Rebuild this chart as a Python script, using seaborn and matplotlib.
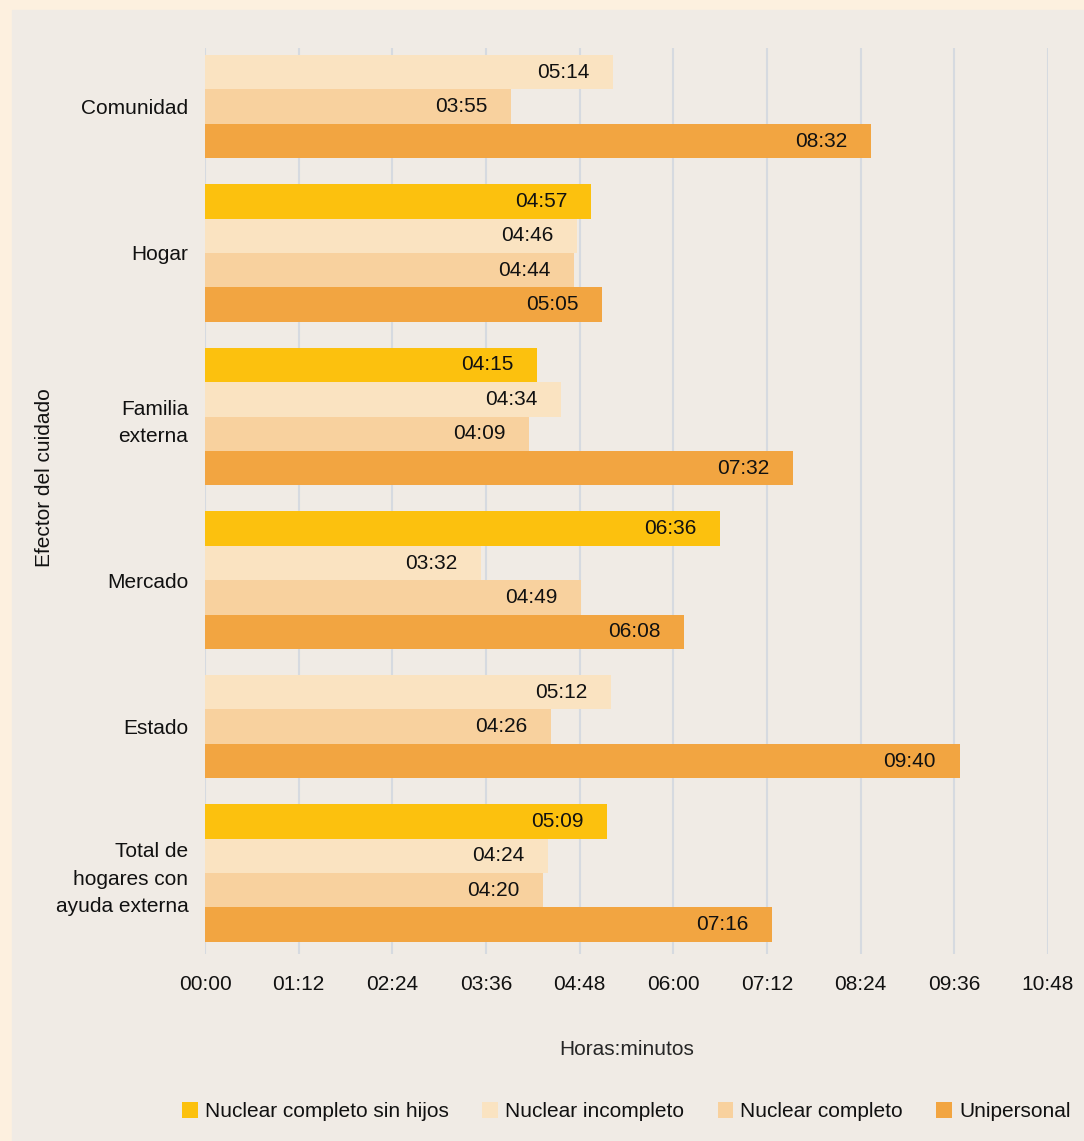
import numpy as np
import pandas as pd
import seaborn as sns
import matplotlib.pyplot as plt
from matplotlib.patches import Rectangle

# categorias (de arriba hacia abajo) y series, valores en horas:minutos
efectores = ["Comunidad", "Hogar", "Familia\nexterna", "Mercado", "Estado",
             "Total de\nhogares con\nayuda externa"]
tipos = ["Nuclear completo sin hijos", "Nuclear incompleto", "Nuclear completo", "Unipersonal"]
sin_hijos = [None, "04:57", "04:15", "06:36", None, "05:09"]
incompleto = ["05:14", "04:46", "04:34", "03:32", "05:12", "04:24"]
completo = ["03:55", "04:44", "04:09", "04:49", "04:26", "04:20"]
unipersonal = ["08:32", "05:05", "07:32", "06:08", "09:40", "07:16"]
tick_labels = ["00:00", "01:12", "02:24", "03:36", "04:48", "06:00",
               "07:12", "08:24", "09:36", "10:48"]
colores = ["#FCC10E", "#FAE3C1", "#F8D19E", "#F2A541"]


def a_minutos(s):
    h, m = s.split(":")
    return int(h) * 60 + int(m)


def a_hhmm(v):
    v = int(round(v))
    return f"{v // 60:02d}:{v % 60:02d}"


# una fila por barra; los grupos solo ocupan el lugar de las barras que tienen
rows = []
centros = []
pos = 0.0
for i, ef in enumerate(efectores):
    ys = []
    for tipo, serie in zip(tipos, [sin_hijos, incompleto, completo, unipersonal]):
        if serie[i] is None:
            continue
        rows.append({"pos": pos, "minutos": a_minutos(serie[i]), "tipo": tipo})
        ys.append(pos)
        pos += 1
    centros.append(np.mean(ys))
    pos += 0.75
df = pd.DataFrame(rows)

sns.set_theme(style="white")
plt.rcParams['font.family'] = ['Liberation Sans', 'DejaVu Sans']
plt.rcParams['text.color'] = '#111111'
plt.rcParams['xtick.color'] = '#111111'
plt.rcParams['ytick.color'] = '#111111'

W, H = 1084, 1141
fig = plt.figure(figsize=(W / 100, H / 100), dpi=100)
fig.patch.set_facecolor('#FDF0DF')
fig.add_artist(Rectangle((12 / W, 0), 1, 1 - 10 / H, transform=fig.transFigure,
                         color='#F0EBE5', zorder=0))

ax = fig.add_axes([205 / W, 1 - 954 / H, 843 / W, 906 / H])
ax.patch.set_alpha(0)

sns.barplot(data=df, x="minutos", y="pos", hue="tipo", hue_order=tipos,
            palette=colores, orient="h", native_scale=True, dodge=False,
            width=1.0, saturation=1, errorbar=None, linewidth=0, ax=ax)

for cont in ax.containers:
    for p in cont:
        w = p.get_width()
        if np.isnan(w) or w == 0:
            continue
        ax.annotate(a_hhmm(w), (w, p.get_y() + p.get_height() / 2),
                    xytext=(-17, 0), textcoords="offset points",
                    ha="right", va="center", fontsize=15)

ylast = df["pos"].max()
ax.set_ylim(ylast + 0.5 + 0.35, -0.7)
ax.set_yticks(centros)
ax.set_yticklabels(efectores, ha="right", linespacing=1.55)
ax.set_ylabel("")

tick_min = [a_minutos(t) for t in tick_labels]
ax.set_xlim(0, tick_min[-1])
ax.set_xticks(tick_min)
ax.set_xticklabels(tick_labels)
ax.set_xlabel("Horas:minutos", fontsize=15, labelpad=33)

ax.tick_params(axis="x", length=0, pad=15, labelsize=15)
ax.tick_params(axis="y", length=0, pad=12, labelsize=15)
ax.grid(axis="x", color="#D6DAE0", linewidth=1.5)
ax.grid(axis="y", visible=False)
ax.set_axisbelow(True)
sns.despine(ax=ax, left=True, bottom=True)

fig.text(45 / W, 1 - 478 / H, "Efector del cuidado", rotation=90,
         ha="center", va="center", fontsize=15)

sns.move_legend(ax, "center", bbox_to_anchor=(0.5, -0.174), ncol=4,
                frameon=False, title=None, fontsize=15, handlelength=0.75,
                handleheight=0.75, handletextpad=0.35, columnspacing=1.6)

fig.savefig("out.png", dpi=100, facecolor=fig.get_facecolor())
